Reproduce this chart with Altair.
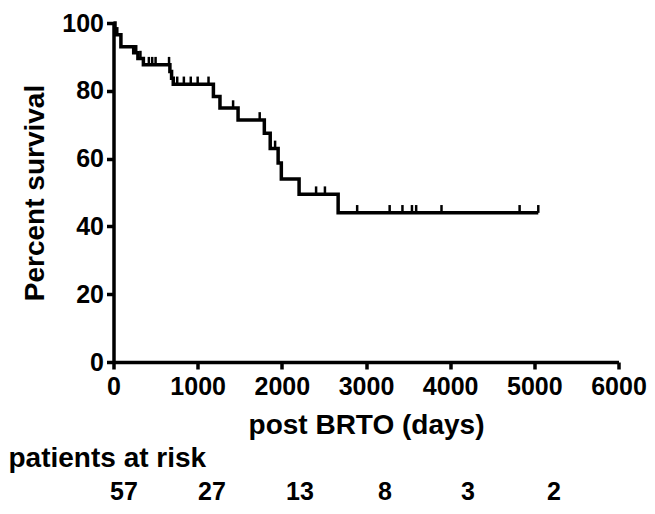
import altair as alt
import pandas as pd

# Kaplan-Meier steps (days, percent survival after the step)
step_days = [0, 18, 88, 240, 290, 355, 670, 690, 710, 1187, 1265, 1480,
             1792, 1862, 1956, 1994, 2205, 2669, 5047]
step_surv = [100, 96.5, 93.0, 91.2, 89.5, 87.7, 85.7, 83.7, 81.9, 78.3, 74.9, 71.4,
             67.5, 63.0, 58.7, 54.0, 49.5, 44.0, 44.0]

# censored observations (days, percent survival level)
cens_days = [45, 270, 320, 420, 460, 500, 660, 757, 836, 918, 1000, 1129,
             1421, 1737, 1920, 2407, 2512, 2895, 3281, 3433, 3546, 3596, 3897, 4825, 5047]
cens_surv = [96.5, 91.2, 89.5, 87.7, 87.7, 87.7, 87.7, 81.9, 81.9, 81.9, 81.9, 81.9,
             74.9, 71.4, 63.0, 49.5, 49.5, 44.0, 44.0, 44.0, 44.0, 44.0, 44.0, 44.0, 44.0]

# patients at risk
risk_days = [125, 1170, 2216, 3226, 4212, 5233]
risk_n = ["57", "27", "13", "8", "3", "2"]

FONT = "Liberation Sans"

km = pd.DataFrame({"days": step_days, "surv": step_surv})
cens = pd.DataFrame({"days": cens_days, "surv": cens_surv})
risk = pd.DataFrame({"days": risk_days, "n": risk_n})

xscale = alt.Scale(domain=[0, 6000], nice=False)
yscale = alt.Scale(domain=[0, 100], nice=False)

xaxis = alt.Axis(values=[0, 1000, 2000, 3000, 4000, 5000, 6000], title="post BRTO (days)",
                 format="d", labelFontSize=25, titleFontSize=28, labelPadding=5,
                 titlePadding=12, labelFlush=False)
yaxis = alt.Axis(values=[0, 20, 40, 60, 80, 100], title="Percent survival", format="d",
                 labelFontSize=25, titleFontSize=28, labelPadding=3, titlePadding=12)

line = alt.Chart(km).mark_line(interpolate="step-after", color="black", strokeWidth=3.5).encode(
    x=alt.X("days:Q", scale=xscale, axis=xaxis),
    y=alt.Y("surv:Q", scale=yscale, axis=yaxis),
)

ticks = alt.Chart(cens).transform_calculate(top="datum.surv + 2.3").mark_rule(
    color="black", strokeWidth=2.5
).encode(
    x=alt.X("days:Q", scale=xscale),
    y=alt.Y("surv:Q", scale=yscale),
    y2="top:Q",
)

risk_text = alt.Chart(risk).mark_text(
    font=FONT, fontWeight="bold", fontSize=25, color="black", baseline="middle", align="center"
).encode(
    x=alt.X("days:Q", scale=xscale),
    y=alt.value(469),
    text="n:N",
)

risk_title = alt.Chart(pd.DataFrame({"t": ["patients at risk"]})).mark_text(
    font=FONT, fontWeight="bold", fontSize=28, color="black", baseline="middle", align="left"
).encode(
    x=alt.value(-105),
    y=alt.value(436),
    text="t:N",
)

chart = alt.layer(line, ticks, risk_text, risk_title).properties(
    width=505, height=339,
    autosize=alt.AutoSizeParams(type="none"),
    padding={"left": 105.5, "top": 15, "right": 28, "bottom": 148},
).configure_view(stroke=None).configure_axis(
    grid=False, domainColor="black", domainWidth=3.5, tickColor="black", tickWidth=3.5,
    tickSize=7, labelFont=FONT, titleFont=FONT, labelFontWeight="bold",
    titleFontWeight="bold", labelColor="black", titleColor="black",
)

chart.save("out.html", embed_options={"renderer": "svg", "actions": False})
